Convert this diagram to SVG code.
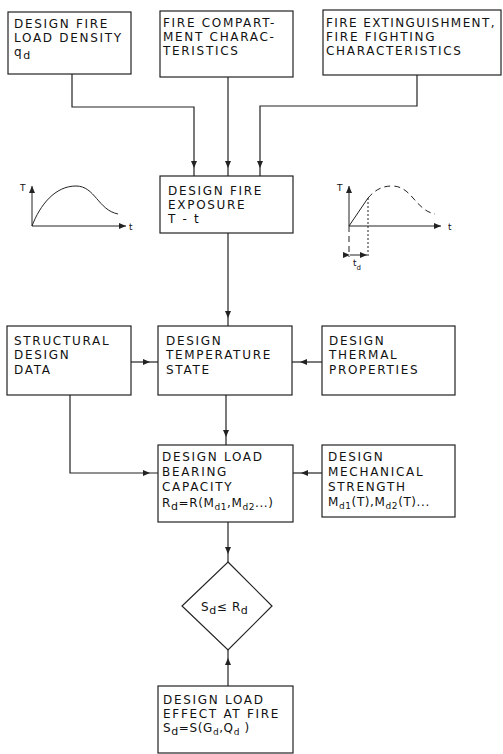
<svg xmlns="http://www.w3.org/2000/svg" width="503" height="754" viewBox="0 0 503 754">
<defs>
<style>
.box{fill:#fff;stroke:#222;stroke-width:1.2}
.ln{fill:none;stroke:#222;stroke-width:1.2}
.t{font-family:"DejaVu Sans","Liberation Sans",sans-serif;font-size:12px;fill:#111;letter-spacing:1.7px}
.s{font-size:9px}
.g{fill:none;stroke:#222;stroke-width:1}
.gl{font-family:"DejaVu Sans","Liberation Sans",sans-serif;font-size:9px;fill:#111}
.dash{stroke-dasharray:6 4}
.dot{stroke-dasharray:2 2}
</style>
<marker id="ah" viewBox="0 0 16 6" refX="15" refY="3" markerWidth="16" markerHeight="6" markerUnits="userSpaceOnUse" orient="auto">
<path d="M0,0 L7,3 L0,6 z" fill="#222"/>
</marker>
<marker id="sa" viewBox="0 0 7 6" refX="7" refY="3" markerWidth="7" markerHeight="6" markerUnits="userSpaceOnUse" orient="auto">
<path d="M0,0 L7,3 L0,6 z" fill="#222"/>
</marker>
</defs>
<rect width="503" height="754" fill="#fff"/>

<g id="connectors">
<path class="ln" d="M72,74 V107 H194 V176" marker-end="url(#ah)"/>
<path class="ln" d="M228,77 V176" marker-end="url(#ah)"/>
<path class="ln" d="M417,75 V106 H260 V176" marker-end="url(#ah)"/>
<path class="ln" d="M228,233 V326" marker-end="url(#ah)"/>
<path class="ln" d="M131,362 H158" marker-end="url(#ah)"/>
<path class="ln" d="M322,362 H292" marker-end="url(#ah)"/>
<path class="ln" d="M226,395 V445" marker-end="url(#ah)"/>
<path class="ln" d="M70,395 V473 H158" marker-end="url(#ah)"/>
<path class="ln" d="M322,473 H293" marker-end="url(#ah)"/>
<path class="ln" d="M228,522 V562" marker-end="url(#ah)"/>
<path class="ln" d="M228,686 V650" marker-end="url(#ah)"/>
</g>

<g id="fire-load-density">
<rect class="box" x="8" y="12" width="123" height="62"/>
<text class="t" x="14" y="28">DESIGN FIRE</text>
<text class="t" x="14" y="42">LOAD DENSITY</text>
<text class="t" x="14" y="56">q<tspan dy="3" style="font-size:11px">d</tspan></text>
</g>

<g id="compartment">
<rect class="box" x="160" y="11" width="133" height="66"/>
<text class="t" x="163" y="27">FIRE COMPART-</text>
<text class="t" x="163" y="41">MENT CHARAC-</text>
<text class="t" x="163" y="55">TERISTICS</text>
</g>

<g id="extinguishment">
<rect class="box" x="323" y="10" width="178" height="65"/>
<text class="t" x="326" y="27" style="letter-spacing:1.4px">FIRE EXTINGUISHMENT,</text>
<text class="t" x="326" y="41">FIRE FIGHTING</text>
<text class="t" x="326" y="55">CHARACTERISTICS</text>
</g>

<g id="fire-exposure">
<rect class="box" x="160" y="176" width="133" height="57"/>
<text class="t" x="168" y="195">DESIGN FIRE</text>
<text class="t" x="168" y="209">EXPOSURE</text>
<text class="t" x="168" y="223">T - t</text>
</g>

<g id="graph-left">
<path class="g" d="M32,226 V186" marker-end="url(#sa)"/>
<path class="g" d="M32,226 H126" marker-end="url(#sa)"/>
<path class="g" d="M32,226 C40,205 55,186 76,186 C95,186 98,210 118,214"/>
<text class="gl" x="20" y="191">T</text>
<text class="gl" x="129" y="230">t</text>
</g>

<g id="graph-right">
<path class="g" d="M349,226 V186" marker-end="url(#sa)"/>
<path class="g" d="M349,226 H441" marker-end="url(#sa)"/>
<path class="g dash" d="M349,226 V257"/>
<path class="g" d="M349,226 L368,198"/>
<path class="g dash" d="M368,198 C375,190 382,186 392,186 C412,186 415,210 435,214"/>
<path class="g dot" d="M368,198 V257"/>
<path class="g" d="M350,255 H367" marker-start="url(#sa)" marker-end="url(#sa)"/>
<text class="gl" x="337" y="191">T</text>
<text class="gl" x="448" y="230">t</text>
<text class="gl" x="353" y="266">t<tspan dy="4" style="font-size:7px">d</tspan></text>
</g>

<g id="structural">
<rect class="box" x="7" y="326" width="124" height="69"/>
<text class="t" x="14" y="345">STRUCTURAL</text>
<text class="t" x="14" y="359">DESIGN</text>
<text class="t" x="14" y="374">DATA</text>
</g>

<g id="temperature">
<rect class="box" x="158" y="326" width="134" height="69"/>
<text class="t" x="166" y="345">DESIGN</text>
<text class="t" x="166" y="359">TEMPERATURE</text>
<text class="t" x="166" y="374">STATE</text>
</g>

<g id="thermal">
<rect class="box" x="322" y="326" width="133" height="69"/>
<text class="t" x="329" y="345">DESIGN</text>
<text class="t" x="329" y="359">THERMAL</text>
<text class="t" x="329" y="374">PROPERTIES</text>
</g>

<g id="load-bearing">
<rect class="box" x="158" y="445" width="135" height="77"/>
<text class="t" x="162" y="461">DESIGN LOAD</text>
<text class="t" x="162" y="476">BEARING</text>
<text class="t" x="162" y="491">CAPACITY</text>
<text class="t" x="162" y="507" style="letter-spacing:0.6px">R<tspan class="s" dy="3" style="font-size:11px">d</tspan><tspan dy="-3">=R(M</tspan><tspan class="s" dy="3">d1</tspan><tspan dy="-3">,M</tspan><tspan class="s" dy="3">d2</tspan><tspan dy="-3">...)</tspan></text>
</g>

<g id="mechanical">
<rect class="box" x="322" y="445" width="133" height="72"/>
<text class="t" x="328" y="461">DESIGN</text>
<text class="t" x="328" y="476">MECHANICAL</text>
<text class="t" x="328" y="491">STRENGTH</text>
<text class="t" x="328" y="506" style="letter-spacing:0.6px">M<tspan class="s" dy="3">d1</tspan><tspan dy="-3">(T),M</tspan><tspan class="s" dy="3">d2</tspan><tspan dy="-3">(T)...</tspan></text>
</g>

<g id="check">
<path class="box" d="M228,562 L272,606 L228,650 L182,606 z"/>
<text class="t" x="201" y="611" style="letter-spacing:0.6px">S<tspan class="s" dy="3" style="font-size:11px">d</tspan><tspan dy="-3">≤ R</tspan><tspan class="s" dy="3" style="font-size:11px">d</tspan></text>
</g>

<g id="load-effect">
<rect class="box" x="158" y="686" width="135" height="67"/>
<text class="t" x="163" y="704">DESIGN LOAD</text>
<text class="t" x="163" y="718">EFFECT AT FIRE</text>
<text class="t" x="163" y="732" style="letter-spacing:0.6px">S<tspan class="s" dy="3" style="font-size:11px">d</tspan><tspan dy="-3">=S(G</tspan><tspan class="s" dy="3">d</tspan><tspan dy="-3">,Q</tspan><tspan class="s" dy="3">d</tspan><tspan dy="-3"> )</tspan></text>
</g>
</svg>
